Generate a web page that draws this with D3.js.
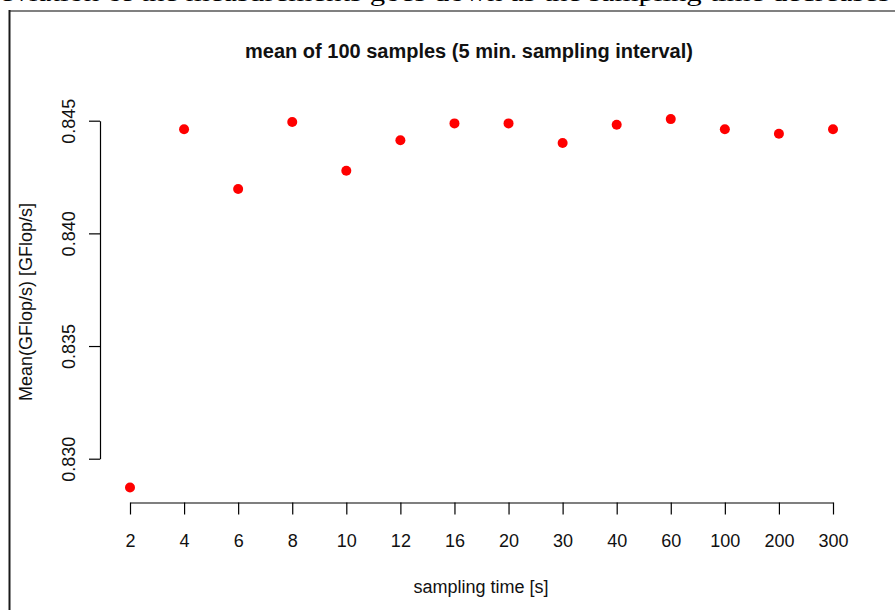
<!DOCTYPE html>
<html>
<head>
<meta charset="utf-8">
<script src="https://cdn.jsdelivr.net/npm/d3@7"></script>
<style>
  html, body { margin: 0; padding: 0; background: #fff; overflow: hidden; }
  svg { display: block; }
  text { font-family: "Liberation Sans", Arial, Helvetica, sans-serif; fill: #111; }
</style>
</head>
<body>
<script>
// Sampling times (s) shown as evenly spaced categories
const samplingTimes = ["2", "4", "6", "8", "10", "12", "16", "20", "30", "40", "60", "100", "200", "300"];
// Mean performance of 100 samples for each sampling time (GFlop/s)
const meanGflops = [0.82872, 0.84462, 0.84197, 0.84494, 0.84278, 0.84413, 0.84488,
                    0.84488, 0.84401, 0.84482, 0.84507, 0.84462, 0.84442, 0.84462];
// Y axis tick values
const yTicks = [0.830, 0.835, 0.840, 0.845];

const W = 895, H = 610;
const svg = d3.select("body").append("svg").attr("width", W).attr("height", H);

// Caption line of the surrounding text, partly scrolled off the top
svg.append("text")
  .attr("x", 0).attr("y", 1)
  .attr("textLength", 890)
  .attr("lengthAdjust", "spacingAndGlyphs")
  .style("font-family", "'Liberation Serif', 'Times New Roman', serif")
  .style("font-size", "24px")
  .style("fill", "#000")
  .text("eviation of the measurements goes down as the sampling time decreases");

// Figure frame (top and left edges)
svg.append("line").attr("x1", 9).attr("x2", W).attr("y1", 11).attr("y2", 11)
  .attr("stroke", "#808080").attr("stroke-width", 2);
svg.append("line").attr("x1", 9.5).attr("x2", 9.5).attr("y1", 10).attr("y2", H)
  .attr("stroke", "#1a1a1a").attr("stroke-width", 2);

const x = d3.scalePoint().domain(samplingTimes).range([130, 833]);
const y = d3.scaleLinear().domain([0.830, 0.845]).range([458.7, 120.7]);

const axisY = 502.5, axisX = 100;

// X axis
const gx = svg.append("g").attr("transform", `translate(0,${axisY})`)
  .call(d3.axisBottom(x).tickSizeOuter(0).tickSizeInner(12).tickPadding(20));
gx.select(".domain").attr("stroke", "#000").attr("stroke-width", 1.2);
gx.selectAll(".tick line").attr("stroke", "#000").attr("stroke-width", 1.2);
gx.selectAll(".tick text").style("font-size", "18px").style("fill", "#111")
  .style("font-family", "'Liberation Sans', Arial, sans-serif");

// Y axis, labels rotated parallel to the axis
const gy = svg.append("g").attr("transform", `translate(${axisX},0)`)
  .call(d3.axisLeft(y).tickValues(yTicks).tickFormat(d3.format(".3f"))
    .tickSizeOuter(0).tickSizeInner(11));
gy.select(".domain").attr("stroke", "#000").attr("stroke-width", 1.2);
gy.selectAll(".tick line").attr("stroke", "#000").attr("stroke-width", 1.2);
gy.selectAll(".tick text")
  .attr("x", null).attr("dy", null)
  .attr("transform", "translate(-25,0) rotate(-90)")
  .attr("text-anchor", "middle")
  .style("font-size", "18px").style("fill", "#111")
  .style("font-family", "'Liberation Sans', Arial, sans-serif");

// Points
svg.append("g").selectAll("circle")
  .data(samplingTimes.map((t, i) => ({ t, v: meanGflops[i] })))
  .join("circle")
  .attr("cx", d => x(d.t))
  .attr("cy", d => y(d.v))
  .attr("r", 5)
  .attr("fill", "#ff0000");

// Title and axis titles
svg.append("text")
  .attr("x", 469).attr("y", 58)
  .attr("text-anchor", "middle")
  .style("font-size", "20px").style("font-weight", "bold")
  .text("mean of 100 samples (5 min. sampling interval)");

svg.append("text")
  .attr("x", 481).attr("y", 593)
  .attr("text-anchor", "middle")
  .style("font-size", "18px")
  .text("sampling time [s]");

svg.append("text")
  .attr("transform", "translate(32,302) rotate(-90)")
  .attr("text-anchor", "middle")
  .style("font-size", "18px")
  .text("Mean(GFlop/s) [GFlop/s]");
</script>
</body>
</html>
